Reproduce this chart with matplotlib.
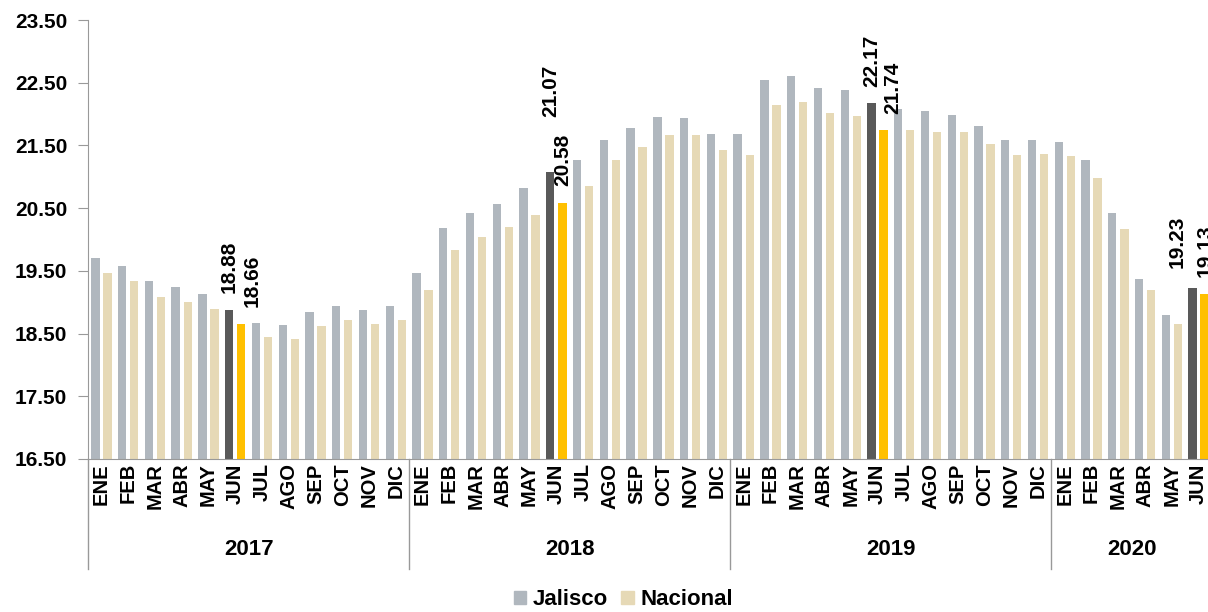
import matplotlib
matplotlib.use('agg')
import matplotlib.pyplot as plt
from matplotlib.patches import Patch
import numpy as np

plt.rcParams['font.family'] = ['Liberation Sans', 'DejaVu Sans']
plt.rcParams['font.weight'] = 'bold'

years = ['2017', '2018', '2019', '2020']
months = ['ENE', 'FEB', 'MAR', 'ABR', 'MAY', 'JUN', 'JUL', 'AGO', 'SEP', 'OCT', 'NOV', 'DIC']
months_per_year = [12, 12, 12, 6]

jalisco = [19.71, 19.58, 19.34, 19.24, 19.13, 18.88, 18.67, 18.63, 18.84, 18.94, 18.88, 18.94,
           19.46, 20.18, 20.42, 20.57, 20.82, 21.07, 21.26, 21.59, 21.77, 21.95, 21.94, 21.69,
           21.68, 22.54, 22.60, 22.42, 22.39, 22.17, 22.08, 22.05, 21.98, 21.81, 21.59, 21.59,
           21.56, 21.27, 20.42, 19.37, 18.80, 19.23]
nacional = [19.47, 19.34, 19.09, 19.00, 18.89, 18.66, 18.45, 18.41, 18.62, 18.71, 18.66, 18.72,
            19.20, 19.83, 20.04, 20.20, 20.39, 20.58, 20.85, 21.27, 21.48, 21.67, 21.67, 21.42,
            21.34, 22.15, 22.20, 22.01, 21.97, 21.74, 21.75, 21.72, 21.71, 21.53, 21.34, 21.37,
            21.33, 20.98, 20.16, 19.20, 18.66, 19.13]

highlight = [5, 17, 29, 41]  # the JUN of every year
# label offsets in points (dx, dy) for jalisco / nacional labels
lab_off_j = [(0, 12), (0, 40), (0, 12), (-11, 14)]
lab_off_n = [(8, 12), (0, 12), (7, 12), (0, 12)]

c_jal, c_nac = '#B0B7BE', '#E6D9B6'
c_jal_hi, c_nac_hi = '#595959', '#FFC000'

labels = [m for n in months_per_year for m in months[:n]]
x = np.arange(len(jalisco))

fig = plt.figure(figsize=(12.08, 6.12), dpi=100)
ax = fig.add_axes([88 / 1208, 153 / 612, 1124 / 1208, 439 / 612])

col_j = [c_jal_hi if i in highlight else c_jal for i in x]
col_n = [c_nac_hi if i in highlight else c_nac for i in x]
off, w = 0.225, 0.31
ax.bar(x - off, np.array(jalisco) - 16.5, w, bottom=16.5, color=col_j)
ax.bar(x + off, np.array(nacional) - 16.5, w, bottom=16.5, color=col_n)

for k, i in enumerate(highlight):
    ax.annotate(f'{jalisco[i]:.2f}', (x[i] - off, jalisco[i]), xytext=lab_off_j[k],
                textcoords='offset points', rotation=90, ha='center', va='bottom',
                fontsize=15, fontweight='bold')
    ax.annotate(f'{nacional[i]:.2f}', (x[i] + off, nacional[i]), xytext=lab_off_n[k],
                textcoords='offset points', rotation=90, ha='center', va='bottom',
                fontsize=15, fontweight='bold')

ax.set_xlim(-0.5, len(x) - 0.5)
ax.set_ylim(16.5, 23.5)
ax.set_yticks(np.arange(16.5, 23.51, 1.0))
ax.set_yticklabels([f'{v:.2f}' for v in np.arange(16.5, 23.51, 1.0)], fontsize=15, fontweight='bold')
ax.tick_params(axis='y', length=7, color='#999999', pad=8)

ax.set_xticks(x)
ax.set_xticklabels(labels, rotation=90, fontsize=14.5, fontweight='bold', va='top')
ax.tick_params(axis='x', length=0, pad=3)

for s in ['top', 'right']:
    ax.spines[s].set_visible(False)
for s in ['left', 'bottom']:
    ax.spines[s].set_color('#999999')

trans = ax.get_xaxis_transform()
start = -0.5
for yr, n in zip(years, months_per_year):
    ax.plot([start, start], [0, -0.25], transform=trans, color='#999999', lw=1, clip_on=False)
    ax.text(start + n / 2, -0.207, yr, transform=trans, ha='center', va='center',
            fontsize=16, fontweight='bold')
    start += n

handles = [Patch(color=c_jal, label='Jalisco'), Patch(color=c_nac, label='Nacional')]
fig.legend(handles=handles, loc='center', bbox_to_anchor=(0.516, 0.02), ncol=2, frameon=False,
           handlelength=0.55, handleheight=0.55, handletextpad=0.3, columnspacing=0.6,
           prop={'size': 16, 'weight': 'bold'})

fig.savefig('out.png', dpi=100)
